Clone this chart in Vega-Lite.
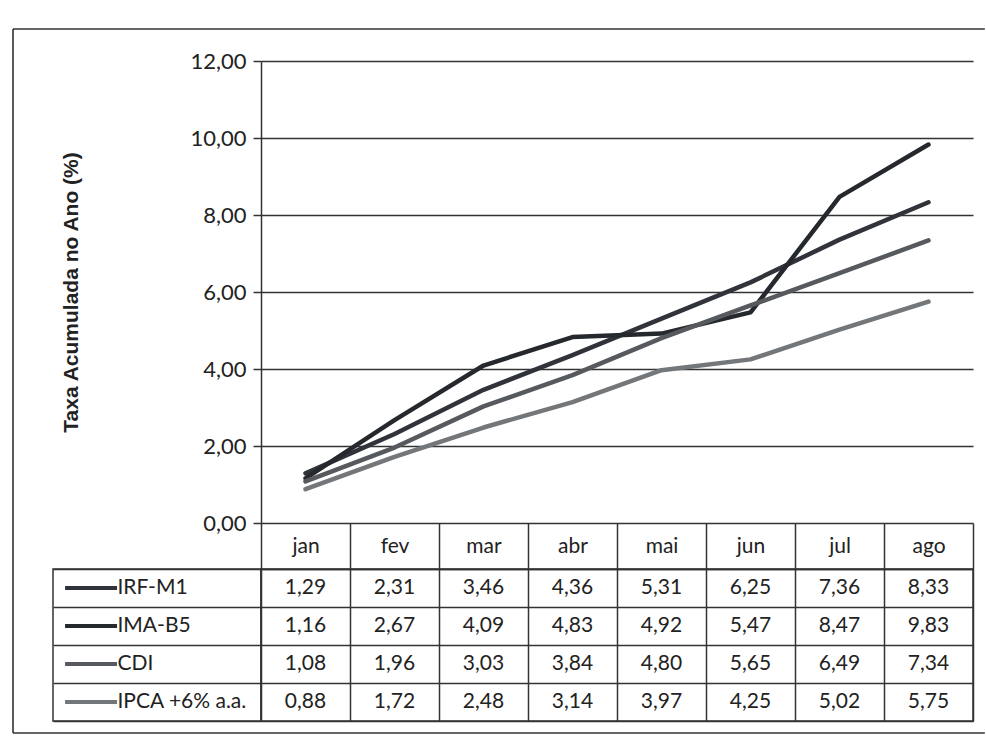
{
  "$schema": "https://vega.github.io/schema/vega-lite/v6.json",
  "padding": {"left": 12, "top": 28, "right": 0, "bottom": 0},
  "background": "white",
  "config": {
    "locale": {"number": {"decimal": ",", "thousands": ".", "grouping": [3], "currency": ["R$", ""]}},
    "view": {"stroke": null},
    "font": "Lato"
  },
  "datasets": {
    "taxas": [
      {"serie": "IRF-M1", "mes": "jan", "valor": 1.29},
      {"serie": "IRF-M1", "mes": "fev", "valor": 2.31},
      {"serie": "IRF-M1", "mes": "mar", "valor": 3.46},
      {"serie": "IRF-M1", "mes": "abr", "valor": 4.36},
      {"serie": "IRF-M1", "mes": "mai", "valor": 5.31},
      {"serie": "IRF-M1", "mes": "jun", "valor": 6.25},
      {"serie": "IRF-M1", "mes": "jul", "valor": 7.36},
      {"serie": "IRF-M1", "mes": "ago", "valor": 8.33},
      {"serie": "IMA-B5", "mes": "jan", "valor": 1.16},
      {"serie": "IMA-B5", "mes": "fev", "valor": 2.67},
      {"serie": "IMA-B5", "mes": "mar", "valor": 4.09},
      {"serie": "IMA-B5", "mes": "abr", "valor": 4.83},
      {"serie": "IMA-B5", "mes": "mai", "valor": 4.92},
      {"serie": "IMA-B5", "mes": "jun", "valor": 5.47},
      {"serie": "IMA-B5", "mes": "jul", "valor": 8.47},
      {"serie": "IMA-B5", "mes": "ago", "valor": 9.83},
      {"serie": "CDI", "mes": "jan", "valor": 1.08},
      {"serie": "CDI", "mes": "fev", "valor": 1.96},
      {"serie": "CDI", "mes": "mar", "valor": 3.03},
      {"serie": "CDI", "mes": "abr", "valor": 3.84},
      {"serie": "CDI", "mes": "mai", "valor": 4.80},
      {"serie": "CDI", "mes": "jun", "valor": 5.65},
      {"serie": "CDI", "mes": "jul", "valor": 6.49},
      {"serie": "CDI", "mes": "ago", "valor": 7.34},
      {"serie": "IPCA +6% a.a.", "mes": "jan", "valor": 0.88},
      {"serie": "IPCA +6% a.a.", "mes": "fev", "valor": 1.72},
      {"serie": "IPCA +6% a.a.", "mes": "mar", "valor": 2.48},
      {"serie": "IPCA +6% a.a.", "mes": "abr", "valor": 3.14},
      {"serie": "IPCA +6% a.a.", "mes": "mai", "valor": 3.97},
      {"serie": "IPCA +6% a.a.", "mes": "jun", "valor": 4.25},
      {"serie": "IPCA +6% a.a.", "mes": "jul", "valor": 5.02},
      {"serie": "IPCA +6% a.a.", "mes": "ago", "valor": 5.75}
    ]
  },
  "columns": 2,
  "bounds": "flush",
  "align": "each",
  "spacing": {"row": 46, "column": 0},
  "concat": [
    {
      "width": 208,
      "height": 462,
      "data": {"values": [{}]},
      "layer": [
        {
          "mark": {"type": "rule", "color": "#333", "strokeWidth": 1.6},
          "encoding": {
            "x": {"datum": -0.1923, "type": "quantitative", "scale": {"domain": [0, 1], "nice": false, "zero": false}, "axis": null},
            "y": {"datum": 1.0693, "type": "quantitative", "scale": {"domain": [0, 1], "nice": false, "zero": false}, "axis": null},
            "y2": {"datum": -0.4545}
          }
        },
        {
          "mark": {"type": "rule", "color": "#333", "strokeWidth": 1.6},
          "encoding": {
            "x": {"datum": -0.1923, "type": "quantitative"},
            "x2": {"datum": 4.48},
            "y": {"datum": 1.0693, "type": "quantitative"}
          }
        },
        {
          "mark": {"type": "rule", "color": "#333", "strokeWidth": 1.6},
          "encoding": {
            "x": {"datum": -0.1923, "type": "quantitative"},
            "x2": {"datum": 4.48},
            "y": {"datum": -0.4545, "type": "quantitative"}
          }
        }
      ]
    },
    {
      "width": 712,
      "height": 462,
      "data": {"name": "taxas"},
      "mark": {"type": "line", "strokeWidth": 4.5, "strokeCap": "round", "strokeJoin": "round"},
      "encoding": {
        "x": {
          "field": "mes", "type": "ordinal",
          "sort": ["jan", "fev", "mar", "abr", "mai", "jun", "jul", "ago"],
          "scale": {"type": "point", "padding": 0.5},
          "axis": null
        },
        "y": {
          "field": "valor", "type": "quantitative",
          "scale": {"domain": [0, 12], "nice": false},
          "axis": {
            "values": [0, 2, 4, 6, 8, 10, 12],
            "format": ".2f",
            "title": "Taxa Acumulada no Ano (%)",
            "titleFont": "Liberation Sans",
            "titleFontSize": 21,
            "titleFontWeight": "bold",
            "titleColor": "#222",
            "titlePadding": 108,
            "labelFontSize": 22,
            "labelColor": "#222",
            "labelPadding": 7,
            "tickSize": 8,
            "tickColor": "#333",
            "tickWidth": 1.5,
            "domainColor": "#333",
            "domainWidth": 1.5,
            "grid": true,
            "gridColor": "#333",
            "gridWidth": 1.5,
            "gridOpacity": 1
          }
        },
        "color": {
          "field": "serie", "type": "nominal",
          "scale": {"domain": ["IRF-M1", "IMA-B5", "CDI", "IPCA +6% a.a."], "range": ["#30343a", "#25282c", "#565a5e", "#74777a"]},
          "legend": null
        }
      }
    },
    {
      "width": 208,
      "height": 152,
      "view": {"stroke": "#333", "strokeWidth": 1.5},
      "data": {"name": "taxas"},
      "transform": [{"filter": "datum.mes === 'jan'"}],
      "encoding": {
        "y": {
          "field": "serie", "type": "nominal",
          "sort": ["IRF-M1", "IMA-B5", "CDI", "IPCA +6% a.a."],
          "scale": {"paddingInner": 0, "paddingOuter": 0},
          "axis": {"grid": true, "tickBand": "extent", "labels": false, "ticks": false, "domain": false, "title": null, "gridColor": "#333", "gridWidth": 1.5, "gridOpacity": 1}
        }
      },
      "layer": [
        {
          "mark": {"type": "rule", "strokeWidth": 4},
          "encoding": {
            "x": {"datum": 0.058, "type": "quantitative", "scale": {"domain": [0, 1], "nice": false, "zero": false}, "axis": null},
            "x2": {"datum": 0.308},
            "color": {
              "field": "serie", "type": "nominal",
              "scale": {"domain": ["IRF-M1", "IMA-B5", "CDI", "IPCA +6% a.a."], "range": ["#30343a", "#25282c", "#565a5e", "#74777a"]},
              "legend": null
            }
          }
        },
        {
          "mark": {"type": "text", "align": "left", "baseline": "middle", "fontSize": 21, "color": "#222"},
          "encoding": {
            "x": {"datum": 0.31, "type": "quantitative"},
            "text": {"field": "serie", "type": "nominal"}
          }
        }
      ]
    },
    {
      "width": 712,
      "height": 152,
      "view": {"stroke": "#333", "strokeWidth": 1.5},
      "data": {"name": "taxas"},
      "mark": {"type": "text", "fontSize": 21, "color": "#222", "baseline": "middle"},
      "encoding": {
        "x": {
          "field": "mes", "type": "ordinal",
          "sort": ["jan", "fev", "mar", "abr", "mai", "jun", "jul", "ago"],
          "scale": {"type": "band", "paddingInner": 0, "paddingOuter": 0},
          "axis": {
            "orient": "top", "title": null, "tickBand": "extent",
            "tickSize": 46, "tickColor": "#333", "tickWidth": 1.5,
            "domainColor": "#333", "domainWidth": 1.5,
            "grid": true, "gridColor": "#333", "gridWidth": 1.5, "gridOpacity": 1,
            "labelFontSize": 21, "labelColor": "#222", "labelBaseline": "middle",
            "labelPadding": -23, "labelAngle": 0
          }
        },
        "y": {
          "field": "serie", "type": "nominal",
          "sort": ["IRF-M1", "IMA-B5", "CDI", "IPCA +6% a.a."],
          "scale": {"paddingInner": 0, "paddingOuter": 0},
          "axis": {"grid": true, "tickBand": "extent", "labels": false, "ticks": false, "domain": false, "title": null, "gridColor": "#333", "gridWidth": 1.5, "gridOpacity": 1}
        },
        "text": {"field": "valor", "type": "quantitative", "format": ".2f"}
      }
    }
  ]
}
